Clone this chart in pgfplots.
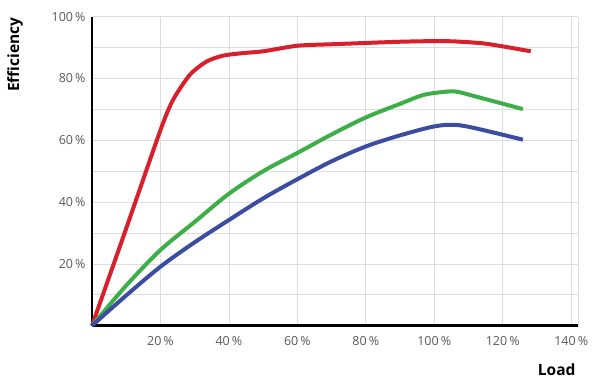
\documentclass[border=0pt]{standalone}
\usepackage{pgfplots}
\pgfplotsset{compat=1.18}
\usepackage{fontspec}
\setmainfont{Open Sans}
\definecolor{cred}{HTML}{D7202C}
\definecolor{cgreen}{HTML}{3DAE48}
\definecolor{cblue}{HTML}{3A4DA0}
\definecolor{tickgray}{HTML}{5A5A5A}
\definecolor{gridgray}{HTML}{DDDDDD}
\begin{document}
\begin{tikzpicture}
\begin{axis}[
  scale only axis,
  width=486pt, height=309pt,
  xmin=0, xmax=142, ymin=0, ymax=100,
  axis lines=left,
  axis line style={line width=2.5pt, black, -},
  xtick={20,40,60,80,100,120,140},
  xticklabels={20\,\%,40\,\%,60\,\%,80\,\%,100\,\%,120\,\%,140\,\%},
  ytick={20,40,60,80,100},
  yticklabels={20\,\%,40\,\%,60\,\%,80\,\%,100\,\%},
  minor ytick={10,30,50,70,90},
  extra x ticks={142}, extra x tick labels={},
  extra x tick style={grid=major, major tick length=0pt},
  grid=both,
  major grid style={gridgray, line width=0.8pt},
  minor grid style={gridgray, line width=0.8pt},
  major tick length=0pt, minor tick length=0pt,
  tick label style={font=\fontsize{12.5}{14}\selectfont, text=tickgray},
  /pgf/number format/assume math mode=true,
  xticklabel style={yshift=-7pt},
  yticklabel style={xshift=-3pt},
  clip=false,
]
\draw[gridgray, line width=0.8pt] (axis cs:0,100) -- (axis cs:142,100);
\addplot[cred, line width=4pt, smooth, tension=0.45] coordinates {
(0,0) (10,31.5) (20,63.3) (23.7,73.1) (28.6,81.2) (33.5,85.5) (38.3,87.4) (44,88.2) (50,88.8) (60,90.6) (70.5,91.1) (80,91.5) (90,91.9) (100,92.1) (106,92.0) (114,91.4) (120,90.4) (128.2,88.8)
};
\addplot[cgreen, line width=4pt, smooth, tension=0.5] coordinates {
(0,0) (10,13) (20,24.5) (30,33.6) (40,42.7) (50,50.0) (60,55.9) (70,61.9) (80,67.4) (90,71.8) (96,74.4) (100,75.3) (106,75.8) (112,74.2) (125.9,70.1)
};
\addplot[cblue, line width=4pt, smooth, tension=0.5] coordinates {
(0,0) (10,9.8) (20,19.1) (30,27.0) (40,34.2) (50,41.2) (60,47.4) (70,53.2) (80,58.0) (90,61.6) (100,64.5) (106,65.0) (112,63.9) (125.9,60.2)
};
\end{axis}
\node[rotate=90, font=\fontsize{15.5}{17}\selectfont\bfseries] at ([xshift=-77pt,yshift=-38pt]current axis.north west) {Efficiency};
\node[font=\fontsize{15.5}{17}\selectfont\bfseries, anchor=east] at ([xshift=1pt,yshift=-44pt]current axis.south east) {Load};
\pgfresetboundingbox
\path[use as bounding box] ([xshift=-92pt,yshift=-60.3pt]current axis.south west) rectangle ++(600pt,386pt);
\end{tikzpicture}
\end{document}
